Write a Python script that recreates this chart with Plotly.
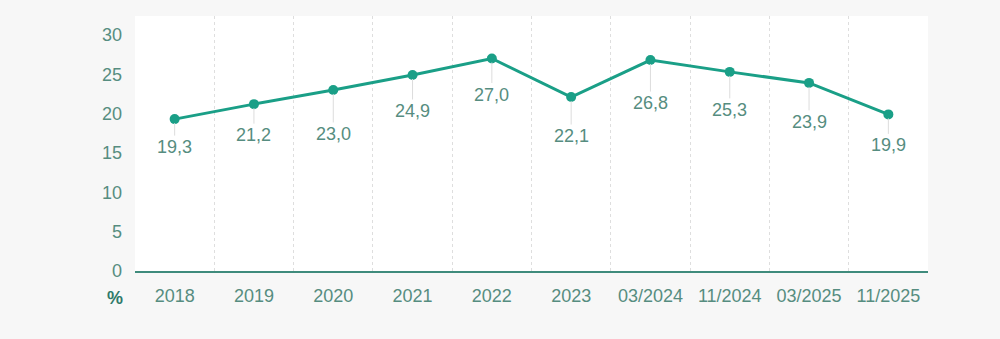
import plotly.graph_objects as go

# Series data
periods = ["2018", "2019", "2020", "2021", "2022", "2023",
           "03/2024", "11/2024", "03/2025", "11/2025"]
values = [19.3, 21.2, 23.0, 24.9, 27.0, 22.1, 26.8, 25.3, 23.9, 19.9]
y_ticks = [0, 5, 10, 15, 20, 25, 30]

# Styling
LINE = "#1a9f87"
TEXT = "#568d80"
AXIS = "#3f8b7c"
FONT = "Liberation Sans"
label_offsets = [28, 31, 44, 36, 36, 39, 43, 38, 39, 31]

fig = go.Figure()
fig.add_trace(go.Scatter(
    x=periods, y=values, mode="lines+markers",
    line=dict(color=LINE, width=3),
    marker=dict(color=LINE, size=10),
    hoverinfo="skip", showlegend=False,
))

# Value labels below each point, joined by a thin leader line
for i, (v, off) in enumerate(zip(values, label_offsets)):
    fig.add_annotation(
        x=i, y=v, text=f"{v:.1f}".replace(".", ","),
        showarrow=True, arrowhead=0, arrowwidth=1, arrowcolor="#dcdcdc",
        ax=0, ay=off, standoff=4,
        font=dict(family=FONT, size=18, color=TEXT),
    )

fig.add_annotation(
    xref="paper", yref="paper", x=-0.012, y=-0.06, xanchor="right", yanchor="top",
    text="<b>%</b>", showarrow=False,
    font=dict(family=FONT, size=18, color="#2f7a6a"),
)

fig.update_layout(
    width=1000, height=339,
    margin=dict(l=135, r=72, t=16, b=68),
    paper_bgcolor="#f7f7f7", plot_bgcolor="#ffffff",
    font=dict(family=FONT, size=18, color=TEXT),
    xaxis=dict(
        type="category", range=[-0.5, len(periods) - 0.5],
        tickson="boundaries", showgrid=True, gridcolor="#dedede",
        griddash="dot", gridwidth=1,
        showline=True, linecolor=AXIS, linewidth=2,
        ticks="", tickfont=dict(size=18, color=TEXT), ticklabelstandoff=7,
        fixedrange=True, zeroline=False,
    ),
    yaxis=dict(
        range=[0, 32.4], tickvals=y_ticks, showgrid=False,
        zeroline=False, showline=False, ticks="",
        tickfont=dict(size=18, color=TEXT), ticklabelstandoff=12,
        fixedrange=True,
    ),
)

fig.write_html("out.html")
